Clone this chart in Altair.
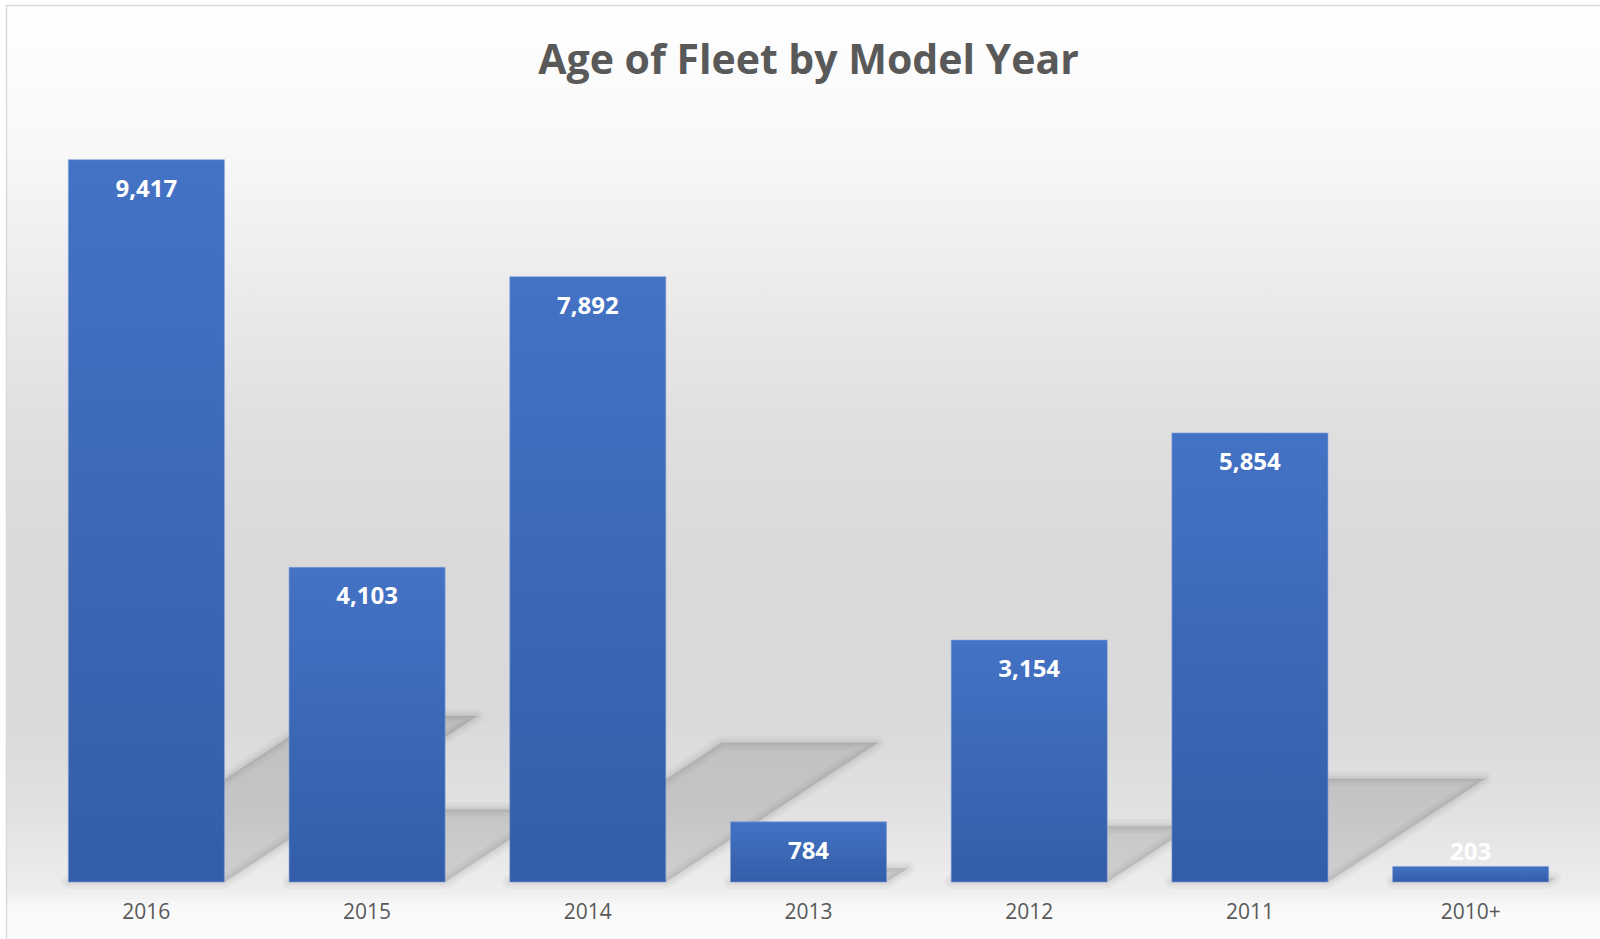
import altair as alt
import pandas as pd
import numpy as np

# ---- data ----
years = ["2016", "2015", "2014", "2013", "2012", "2011", "2010+"]
vehicles = [9417, 4103, 7892, 784, 3154, 5854, 203]

# ---- layout / style constants ----
W, H = 1545, 767
Y_MAX = 10000
PAD = {"left": 36, "top": 115, "right": 19, "bottom": 57}
GREY = "#595959"
FONT = "Open Sans"
PX_PER_UNIT = H / Y_MAX
STEP = W / len(years)
P_INNER = 0.293
HALF_BAR = (1 - P_INNER) / 2          # half bar width in category steps
SH_DX = 0.35                           # shadow horizontal shift, fraction of bar pixel height
SH_DY = 0.23                           # shadow vertical rise, fraction of bar height

df = pd.DataFrame({"year": years, "count": vehicles})
df["label_y"] = np.maximum(df["count"] - 30 / PX_PER_UNIT, 29 / PX_PER_UNIT)

# perspective shadows derived from the bar values
rows = []
for i, (y, v) in enumerate(zip(years, vehicles)):
    L, R = i - HALF_BAR, i + HALF_BAR
    d = SH_DX * v * PX_PER_UNIT / STEP
    h = SH_DY * v
    if d <= R - L:
        xs = [L, L + d, R, R + d]
        top = [0, h, h, h]
        bot = [0, 0, 0, h]
    else:
        xs = [L, R, L + d, R + d]
        top = [0, h * (R - L) / d, h, h]
        bot = [0, 0, h * (L + d - R) / d, h]
    for x, t, b in zip(xs, top, bot):
        rows.append({"year": y, "sx": x, "top": t, "bot": b})
shadow_df = pd.DataFrame(rows)

bg_grad = alt.LinearGradient(
    gradient="linear", x1=0, x2=0, y1=0, y2=1,
    stops=[
        alt.GradientStop(color="#ffffff", offset=0.0),
        alt.GradientStop(color="#f8f8f8", offset=0.15),
        alt.GradientStop(color="#ebebeb", offset=0.3),
        alt.GradientStop(color="#dfdfdf", offset=0.45),
        alt.GradientStop(color="#d9d9d9", offset=0.6),
        alt.GradientStop(color="#dadada", offset=0.75),
        alt.GradientStop(color="#e2e2e2", offset=0.85),
        alt.GradientStop(color="#eeeeee", offset=0.93),
        alt.GradientStop(color="#f9f9f9", offset=0.945),
        alt.GradientStop(color="#fdfdfd", offset=1.0),
    ],
)

bg = alt.Chart(pd.DataFrame({"k": [0]})).mark_rect(
    fill=bg_grad, stroke="#d9d9d9", strokeWidth=1.5
).encode(
    x=alt.value(-29.5), x2=alt.value(W + PAD["right"] + 20),
    y=alt.value(-PAD["top"] + 5.5), y2=alt.value(H + PAD["bottom"] + 20),
)

sx_scale = alt.Scale(domain=[-0.5, len(years) - 0.5], nice=False, zero=False)
y_scale = alt.Scale(domain=[0, Y_MAX], nice=False)


def shadow_layer(**style):
    return alt.Chart(shadow_df).mark_area(color="black", interpolate="linear", **style).encode(
        x=alt.X("sx:Q", scale=sx_scale, axis=None),
        y=alt.Y("top:Q", scale=y_scale, axis=None, stack=None),
        y2="bot:Q",
        detail="year:N",
    )


shadow_soft = shadow_layer(fillOpacity=0.0, stroke="black", strokeOpacity=0.03, strokeWidth=14, strokeJoin="round")
shadow_mid = shadow_layer(fillOpacity=0.0, stroke="black", strokeOpacity=0.04, strokeWidth=7, strokeJoin="round")
shadow_core = shadow_layer(fillOpacity=0.12, stroke="black", strokeOpacity=0.03, strokeWidth=2, strokeJoin="round")

bar_grad = alt.LinearGradient(
    gradient="linear", x1=0, x2=0, y1=0, y2=1,
    stops=[alt.GradientStop(color="#4472C4", offset=0),
           alt.GradientStop(color="#335DA8", offset=1)],
)

xband = alt.Scale(domain=years, paddingInner=P_INNER, paddingOuter=P_INNER / 2)

bars = alt.Chart(df).mark_bar(
    fill=bar_grad, stroke="#7f9fd8", strokeWidth=1, strokeOpacity=0.6
).encode(
    x=alt.X("year:N", sort=years, scale=xband,
            axis=alt.Axis(title=None, orient="bottom", ticks=False, domain=False, labelAngle=0,
                          labelFont=FONT, labelFontSize=21, labelColor=GREY,
                          labelPadding=19, grid=False, zindex=1)),
    y=alt.Y("count:Q", scale=y_scale, axis=None),
)

labels = alt.Chart(df).mark_text(
    font=FONT, fontSize=24, fontWeight="bold", color="white", baseline="middle"
).encode(
    x=alt.X("year:N", sort=years, scale=xband, axis=None),
    y=alt.Y("label_y:Q", scale=y_scale, axis=None),
    text=alt.Text("count:Q", format=","),
)

chart = alt.layer(bg, shadow_soft, shadow_mid, shadow_core, bars, labels).resolve_scale(
    x="independent"
).properties(
    width=W, height=H,
    padding=PAD,
    autosize=alt.AutoSizeParams(type="none"),
    background="white",
    title=alt.TitleParams("Age of Fleet by Model Year", font=FONT, fontSize=41,
                          fontWeight="bold", color=GREY, anchor="middle", frame="group",
                          baseline="alphabetic", offset=0, dy=110),
).configure_view(stroke=None)

chart.save("out.html", embed_options={"renderer": "svg", "actions": False})
